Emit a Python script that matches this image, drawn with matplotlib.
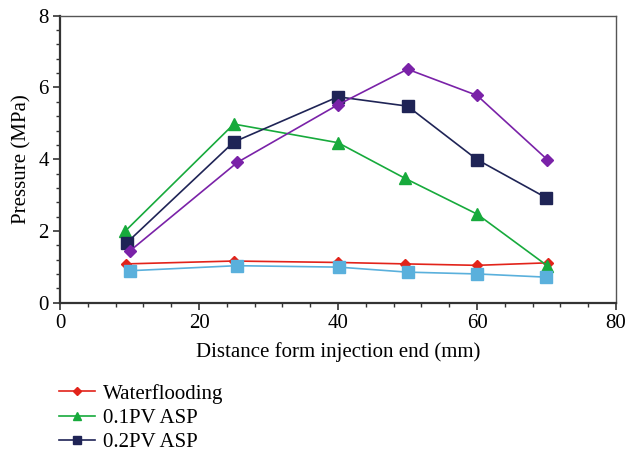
import matplotlib
matplotlib.use('Agg')
import matplotlib.pyplot as plt
from matplotlib.ticker import MultipleLocator

plt.rcParams['font.family'] = ['Liberation Serif', 'DejaVu Serif']

# distances (mm) and pressures (MPa)
x_water = [9.5, 25, 40, 49.7, 60, 70.2]
p_water = [1.08, 1.16, 1.12, 1.08, 1.04, 1.11]

x_asp01 = [9.4, 25, 40, 49.6, 60, 70.1]
p_asp01 = [2.0, 4.98, 4.46, 3.47, 2.47, 1.03]

x_asp02 = [9.6, 25, 40, 50, 60, 70]
p_asp02 = [1.67, 4.48, 5.74, 5.48, 3.99, 2.92]

x_purple = [10.1, 25.5, 40, 50, 60, 70.1]
p_purple = [1.45, 3.91, 5.52, 6.51, 5.78, 3.99]

x_lblue = [10.1, 25.4, 40.1, 50, 60, 70]
p_lblue = [0.89, 1.03, 0.99, 0.85, 0.80, 0.71]

labels = ['Waterflooding', '0.1PV ASP', '0.2PV ASP']

fig = plt.figure(figsize=(6.26, 4.51), dpi=100)
ax = fig.add_axes([0.096, 0.329, 0.888, 0.636])

l_w, = ax.plot(x_water, p_water, color='#e2231a', marker='D', markersize=5.5, lw=1.2, label=labels[0])
l_a1, = ax.plot(x_asp01, p_asp01, color='#17aa3c', marker='^', markersize=8, lw=1.2, label=labels[1])
l_a2, = ax.plot(x_asp02, p_asp02, color='#1f2456', marker='s', markersize=8.5, lw=1.2, label=labels[2])
ax.plot(x_purple, p_purple, color='#7a22a8', marker='D', markersize=6.5, lw=1.2)
ax.plot(x_lblue, p_lblue, color='#5ab0dc', marker='s', markersize=8, lw=1.2)

ax.set_xlim(0, 80)
ax.set_ylim(0, 8)
ax.xaxis.set_major_locator(MultipleLocator(20))
ax.xaxis.set_minor_locator(MultipleLocator(4))
ax.yaxis.set_major_locator(MultipleLocator(2))
ax.yaxis.set_minor_locator(MultipleLocator(0.4))
ax.tick_params(which='both', direction='out', top=False, right=False, labelsize=15, color='#333333')
ax.tick_params(which='major', length=5, width=1.2, pad=3)
ax.tick_params(which='minor', length=3, width=1.0)

for s in ['left', 'bottom']:
    ax.spines[s].set_linewidth(1.6)
    ax.spines[s].set_color('#333333')
for s in ['top', 'right']:
    ax.spines[s].set_linewidth(1.0)
    ax.spines[s].set_color('#555555')

ax.set_xlabel('Distance form injection end (mm)', fontsize=15, labelpad=7)
ax.set_ylabel('Pressure (MPa)', fontsize=15, labelpad=5)

fig.legend(handles=[l_w, l_a1, l_a2], loc='upper left', bbox_to_anchor=(0.094, 0.149),
           frameon=False, fontsize=15, handlelength=1.75, handletextpad=0.38,
           labelspacing=0.22, markerscale=0.75, borderaxespad=0, borderpad=0)

fig.savefig('out.png', dpi=100)
